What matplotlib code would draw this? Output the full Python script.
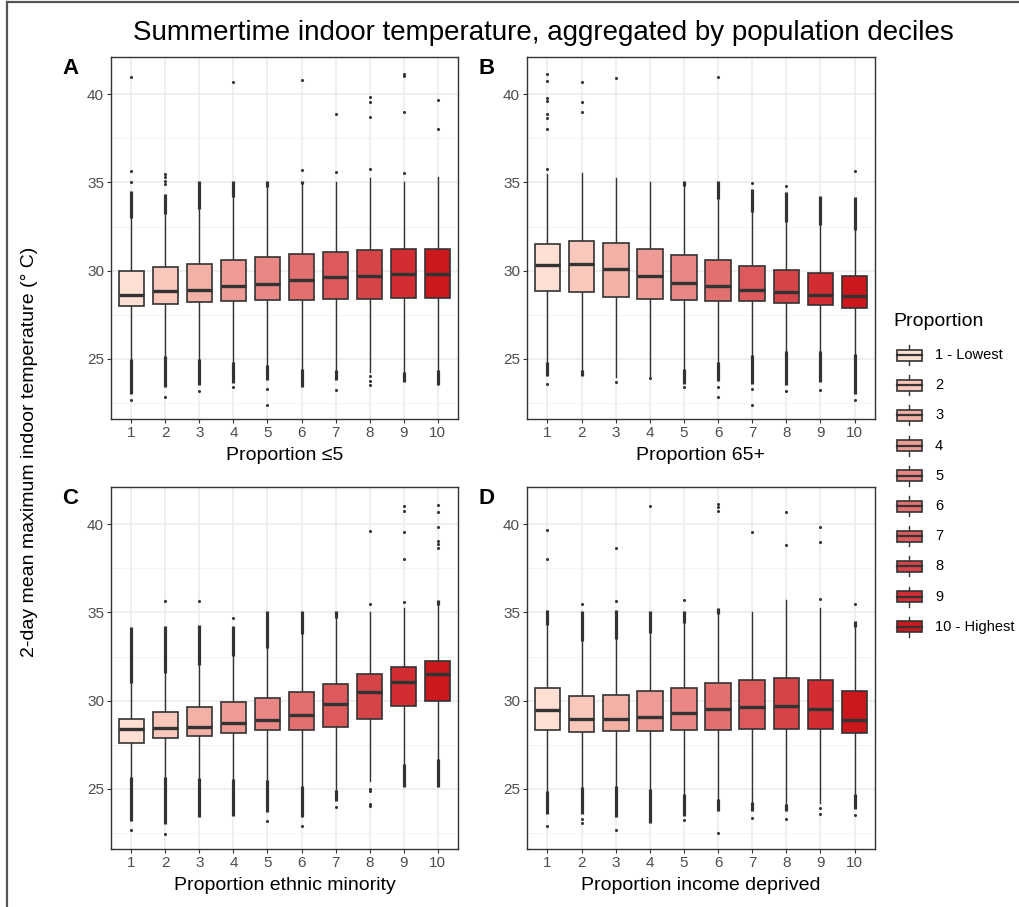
import numpy as np
import matplotlib
matplotlib.use("Agg")
import matplotlib.pyplot as plt
from matplotlib.patches import Rectangle
from matplotlib.lines import Line2D

plt.rcParams['font.family'] = ['Liberation Sans', 'DejaVu Sans']

#%% data

deciles = list(range(1, 11))
legend_labels = ['1 - Lowest', '2', '3', '4', '5', '6', '7', '8', '9', '10 - Highest']
fills = ['#FDDFD3', '#F9C7BC', '#F3B1A6', '#EE9B95', '#E88784',
         '#E2706F', '#DC5A5C', '#D64447', '#D12D32', '#CB181D']

# panel A: Proportion <=5
a_q1 = [27.98, 28.13, 28.22, 28.28, 28.32, 28.36, 28.37, 28.37, 28.43, 28.43]
a_med = [28.64, 28.85, 28.88, 29.11, 29.26, 29.45, 29.62, 29.72, 29.83, 29.83]
a_q3 = [30.0, 30.2, 30.36, 30.62, 30.78, 30.95, 31.06, 31.19, 31.23, 31.21]
a_lo = [25.0, 25.14, 25.0, 24.82, 24.63, 24.44, 24.39, 24.25, 24.25, 24.39]
a_hi = [33.0, 33.2, 33.5, 34.18, 34.74, 34.93, 35.03, 35.26, 35.03, 35.3]
a_hi_band = [(33.0, 34.5), (33.2, 34.37), (33.5, 35.08), (34.18, 35.1), (34.74, 35.08),
             (34.93, 35.08), None, None, None, None]
a_lo_band = [(23.0, 25.0), (23.4, 25.14), (23.5, 25.0), (23.63, 24.82), (23.8, 24.63),
             (23.44, 24.44), (23.82, 24.39), None, (23.72, 24.25), (23.53, 24.39)]
a_pts = [[35.0, 35.65, 40.95, 22.65], [34.9, 35.1, 35.3, 35.5, 22.87], [23.2],
         [40.7, 23.44], [23.3, 22.42], [35.7, 40.8], [35.58, 38.87, 23.25],
         [35.75, 38.68, 39.53, 39.85, 24.06, 23.78, 23.5],
         [35.52, 39.0, 41.02, 41.13], [38.03, 39.66]]

# panel B: Proportion 65+
b_q1 = [28.85, 28.77, 28.53, 28.39, 28.32, 28.28, 28.26, 28.19, 28.07, 27.88]
b_med = [30.34, 30.4, 30.09, 29.7, 29.3, 29.11, 28.92, 28.77, 28.64, 28.54]
b_q3 = [31.53, 31.68, 31.57, 31.23, 30.91, 30.59, 30.25, 30.04, 29.87, 29.68]
b_lo = [24.82, 24.39, 24.0, 24.06, 24.44, 24.82, 25.25, 25.44, 25.43, 25.29]
b_hi = [35.5, 35.54, 35.26, 35.03, 34.78, 34.08, 33.33, 32.76, 32.57, 32.29]
b_hi_band = [None, None, None, None, (34.78, 35.08), (34.08, 35.08), (33.33, 34.65),
             (32.76, 34.46), (32.57, 34.23), (32.29, 34.18)]
b_lo_band = [(24.06, 24.82), (24.06, 24.39), None, None, (23.6, 24.44), (23.78, 24.82),
             (23.6, 25.25), (23.5, 25.44), (23.72, 25.43), (23.02, 25.29)]
b_pts = [[35.73, 38.03, 38.66, 38.9, 39.6, 39.79, 40.76, 41.13, 23.6],
         [38.98, 39.53, 40.7], [40.93, 23.72], [23.9], [23.44],
         [40.98, 23.44, 22.87], [34.97, 23.3, 22.42], [34.78, 23.18], [23.25],
         [35.65, 22.65]]

# panel C: Proportion ethnic minority
c_q1 = [27.61, 27.87, 28.0, 28.15, 28.32, 28.36, 28.53, 28.96, 29.7, 30.0]
c_med = [28.38, 28.46, 28.53, 28.72, 28.93, 29.19, 29.79, 30.47, 31.07, 31.53]
c_q3 = [28.95, 29.36, 29.62, 29.92, 30.17, 30.51, 30.92, 31.53, 31.92, 32.24]
c_lo = [25.65, 25.69, 25.61, 25.56, 25.5, 25.18, 24.93, 25.46, 26.4, 26.69]
c_hi = [31.02, 31.58, 32.02, 32.52, 32.99, 33.75, 34.69, 35.03, 35.25, 35.44]
c_hi_band = [(31.02, 34.16), (31.58, 34.22), (32.02, 34.31), (32.52, 34.22), (32.99, 35.07),
             (33.75, 35.1), (34.69, 35.07), None, None, (35.44, 35.72)]
c_lo_band = [(23.2, 25.65), (23.01, 25.69), (23.39, 25.61), (23.48, 25.56), (23.67, 25.5),
             (23.39, 25.18), (24.29, 24.93), None, (25.12, 26.4), (25.12, 26.69)]
c_pts = [[22.67], [35.67, 22.45], [35.63], [34.69], [23.2], [22.92], [23.99],
         [35.5, 39.62, 24.99, 24.86, 24.14, 24.01],
         [35.57, 38.02, 39.53, 40.75, 41.0],
         [38.64, 38.87, 39.02, 39.81, 40.68, 41.1]]

# panel D: Proportion income deprived
d_q1 = [28.34, 28.21, 28.27, 28.3, 28.32, 28.34, 28.38, 28.42, 28.38, 28.19]
d_med = [29.45, 28.95, 28.95, 29.1, 29.28, 29.53, 29.62, 29.7, 29.53, 28.91]
d_q3 = [30.7, 30.26, 30.34, 30.53, 30.73, 30.98, 31.15, 31.28, 31.19, 30.55]
d_lo = [24.86, 25.12, 25.18, 24.99, 24.71, 24.43, 24.24, 24.14, 24.18, 24.71]
d_hi = [34.27, 33.37, 33.47, 33.84, 34.41, 34.88, 35.03, 35.69, 35.25, 34.2]
d_hi_band = [(34.27, 35.16), (33.37, 35.07), (33.47, 35.16), (33.84, 35.07), (34.41, 35.1),
             (34.88, 35.25), None, None, None, (34.2, 34.5)]
d_lo_band = [(23.58, 24.86), (23.58, 25.12), (23.39, 25.18), (23.05, 24.99), (23.48, 24.71),
             (23.73, 24.43), (23.73, 24.24), (23.77, 24.14), None, (23.86, 24.71)]
d_pts = [[38.02, 39.64, 22.9], [35.5, 23.3, 23.05], [35.63, 38.64, 22.67], [41.0],
         [35.69, 23.24], [40.75, 40.94, 41.15, 22.49], [39.53, 23.35],
         [38.83, 40.68, 23.3], [35.76, 38.98, 39.81, 23.95, 23.58], [35.5, 23.52]]

panels = [
    ('A', 'Proportion \u22645', a_q1, a_med, a_q3, a_lo, a_hi, a_hi_band, a_lo_band, a_pts),
    ('B', 'Proportion 65+', b_q1, b_med, b_q3, b_lo, b_hi, b_hi_band, b_lo_band, b_pts),
    ('C', 'Proportion ethnic minority', c_q1, c_med, c_q3, c_lo, c_hi, c_hi_band, c_lo_band, c_pts),
    ('D', 'Proportion income deprived', d_q1, d_med, d_q3, d_lo, d_hi, d_hi_band, d_lo_band, d_pts),
]

#%% plotting

W, H = 1019, 907
fig = plt.figure(figsize=(W / 100, H / 100), dpi=100)
dark = '#333333'

# axes rectangles in pixels: (left, top, right, bottom)
boxes_px = [(111, 57, 458, 419), (527, 57, 875, 419),
            (111, 487, 458, 849), (527, 487, 875, 849)]

for (letter, xlab, q1, med, q3, lo, hi, hib, lob, pts), (l, t, r, b) in zip(panels, boxes_px):
    ax = fig.add_axes([l / W, 1 - b / H, (r - l) / W, (b - t) / H])
    stats = [dict(q1=q1[i], med=med[i], q3=q3[i], whislo=lo[i], whishi=hi[i], fliers=[])
             for i in range(10)]
    bp = ax.bxp(stats, positions=deciles, widths=0.75, patch_artist=True,
                showfliers=False, showcaps=False,
                boxprops=dict(edgecolor=dark, linewidth=1.2),
                whiskerprops=dict(color=dark, linewidth=1.0),
                medianprops=dict(color=dark, linewidth=2.4, solid_capstyle='butt'))
    for patch, fc in zip(bp['boxes'], fills):
        patch.set_facecolor(fc)
        patch.set_zorder(3)
    for ln in bp['medians']:
        ln.set_zorder(4)
    for i, x in enumerate(deciles):
        for band in (hib[i], lob[i]):
            if band is not None:
                ax.vlines(x, band[0], band[1], color=dark, linewidth=2.3, zorder=2)
        if pts[i]:
            ax.plot([x] * len(pts[i]), pts[i], 'o', color=dark, ms=2.2, mew=0, zorder=2)

    ax.set_xlim(0.4, 10.6)
    ax.set_ylim(21.6, 42.1)
    ax.set_xticks(deciles)
    ax.set_xticklabels([str(d) for d in deciles])
    ax.set_yticks([25, 30, 35, 40])
    ax.set_yticks([22.5, 27.5, 32.5, 37.5], minor=True)
    ax.grid(True, which='major', color='#EBEBEB', linewidth=1.1, zorder=0)
    ax.grid(True, which='minor', axis='y', color='#F2F2F2', linewidth=0.6, zorder=0)
    ax.set_axisbelow(True)
    ax.tick_params(axis='both', which='major', length=3, width=0.8, color=dark,
                   labelcolor='#4D4D4D', labelsize=11, pad=2)
    ax.tick_params(axis='y', which='minor', length=0)
    for sp in ax.spines.values():
        sp.set_color(dark)
        sp.set_linewidth(1.0)
    ax.set_xlabel(xlab, fontsize=14, labelpad=5)
    fig.text((l - 49) / W, 1 - (t + 12) / H, letter, fontsize=16, fontweight='bold',
             ha='left', va='center')

fig.text(543 / W, 1 - 33 / H, 'Summertime indoor temperature, aggregated by population deciles',
         fontsize=20, ha='center', va='center')
fig.text(30 / W, 1 - 452 / H, '2-day mean maximum indoor temperature (\u00b0 C)',
         fontsize=14, rotation=90, ha='center', va='center')

# legend
lax = fig.add_axes([0, 0, 1, 1], zorder=-1)
lax.set_xlim(0, W)
lax.set_ylim(H, 0)
lax.axis('off')
lax.text(893, 321, 'Proportion', fontsize=14, ha='left', va='center')
key_x0, key_w, key_h = 897, 25, 11
for i, (lab, fc) in enumerate(zip(legend_labels, fills)):
    yc = 355 + i * 30.2
    lax.add_line(Line2D([key_x0 + key_w / 2] * 2, [yc - 10, yc + 10], color=dark, lw=1.0))
    lax.add_patch(Rectangle((key_x0, yc - key_h / 2), key_w, key_h, facecolor=fc,
                            edgecolor=dark, lw=1.2, zorder=3))
    lax.add_line(Line2D([key_x0, key_x0 + key_w], [yc, yc], color=dark, lw=1.6, zorder=4))
    lax.text(935, yc, lab, fontsize=10.5, ha='left', va='center')

# outer frame (top and left edges)
lax.add_line(Line2D([7, W], [2, 2], color='#555555', lw=1.6))
lax.add_line(Line2D([7, 7], [2, H], color='#555555', lw=1.6))

fig.savefig('out.png', dpi=100)
